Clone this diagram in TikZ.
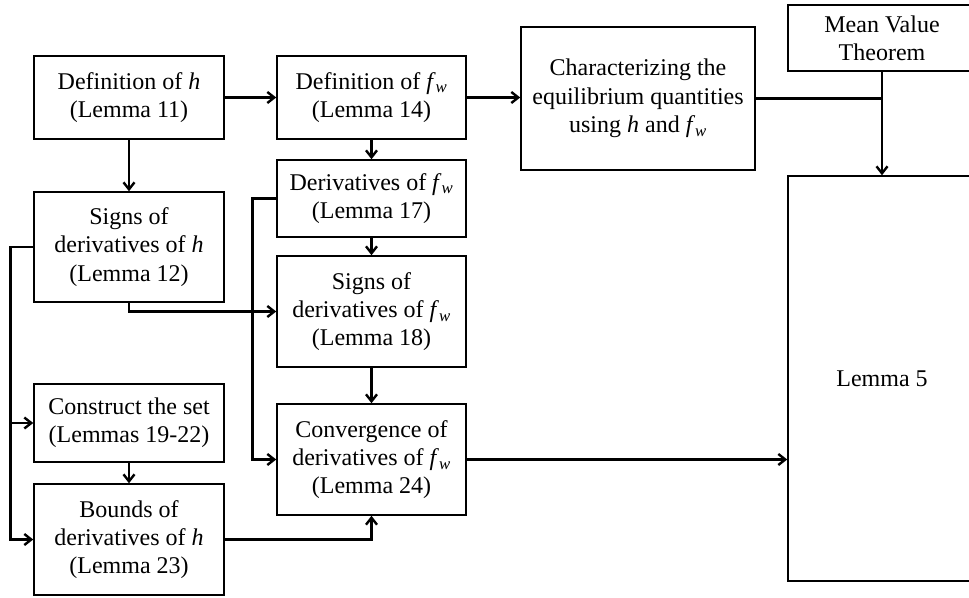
\documentclass[tikz,border=0pt]{standalone}
\usepackage{fontspec}
\setmainfont{Liberation Serif}
\usetikzlibrary{arrows.meta,calc}
\newcommand{\hh}{\textit{h}}
\newcommand{\fw}{\textit{f}\textsubscript{\textit{w}}}
\begin{document}
\begin{tikzpicture}[x=1pt,y=-1pt,
  box/.style={draw,line width=1.5pt,align=center,inner sep=0pt,
    font=\fontsize{24}{28.3}\selectfont},
  conn/.style={line width=2.6pt},
  arr/.style={conn,-{Straight Barb[length=7pt,width=11pt,line width=2.4pt]}}]
\useasboundingbox (0,0) rectangle (969,597);
\node[box,minimum width=190pt,minimum height=83pt] (A) at (129,97.5) {Definition of \hh\\(Lemma 11)};
\node[box,minimum width=189pt,minimum height=83pt] (B) at (371.5,97.5) {Definition of \fw\\(Lemma 14)};
\node[box,minimum width=234pt,minimum height=143pt] (C) at (638,98.5) {Characterizing the\\equilibrium quantities\\using \hh{} and \fw};
\node[box,minimum width=188pt,minimum height=66pt] (M) at (882,38) {Mean Value\\Theorem};
\node[box,minimum width=188pt,minimum height=405pt] (L) at (882,378.5) {Lemma 5};
\node[box,minimum width=190pt,minimum height=110pt] (D) at (129,247) {Signs of\\derivatives of \hh\\(Lemma 12)};
\node[box,minimum width=189pt,minimum height=77pt] (E) at (371.5,198.5) {Derivatives of \fw\\(Lemma 17)};
\node[box,minimum width=189pt,minimum height=111pt] (F) at (371.5,311.5) {Signs of\\derivatives of \fw\\(Lemma 18)};
\node[box,minimum width=189pt,minimum height=111pt] (G) at (371.5,459.5) {Convergence of\\derivatives of \fw\\(Lemma 24)};
\node[box,minimum width=190pt,minimum height=78pt] (H) at (129,423) {Construct the set\\(Lemmas 19-22)};
\node[box,minimum width=190pt,minimum height=111pt] (I) at (129,539.5) {Bounds of\\derivatives of \hh\\(Lemma 23)};
\draw[arr] (A.east) -- (B.west);
\draw[arr] (A.south) -- (D.north);
\draw[arr] (B.east) -- (B.east -| C.west);
\draw[arr] (B.south) -- (E.north);
\draw[arr] (E.south) -- (F.north);
\draw[arr] (F.south) -- (G.north);
\draw[arr] (H.south) -- (I.north);
\draw[conn] (C.east) -- (C.east -| M.south);
\draw[arr] (M.south) -- (L.north);
\draw[arr] (D.south) |- (F.west);
\coordinate (ej) at ($(E.west)+(-24,0)$);
\draw[arr] (E.west) -- (ej) |- (G.west);
\coordinate (dj) at ($(D.west)+(-23,0)$);
\draw[arr] (D.west) -- (dj) |- (I.west);
\draw[arr] (dj |- H.west) -- (H.west);
\draw[arr] (I.east) -| (G.south);
\draw[arr] (G.east) -- (G.east -| L.west);
\end{tikzpicture}
\end{document}
